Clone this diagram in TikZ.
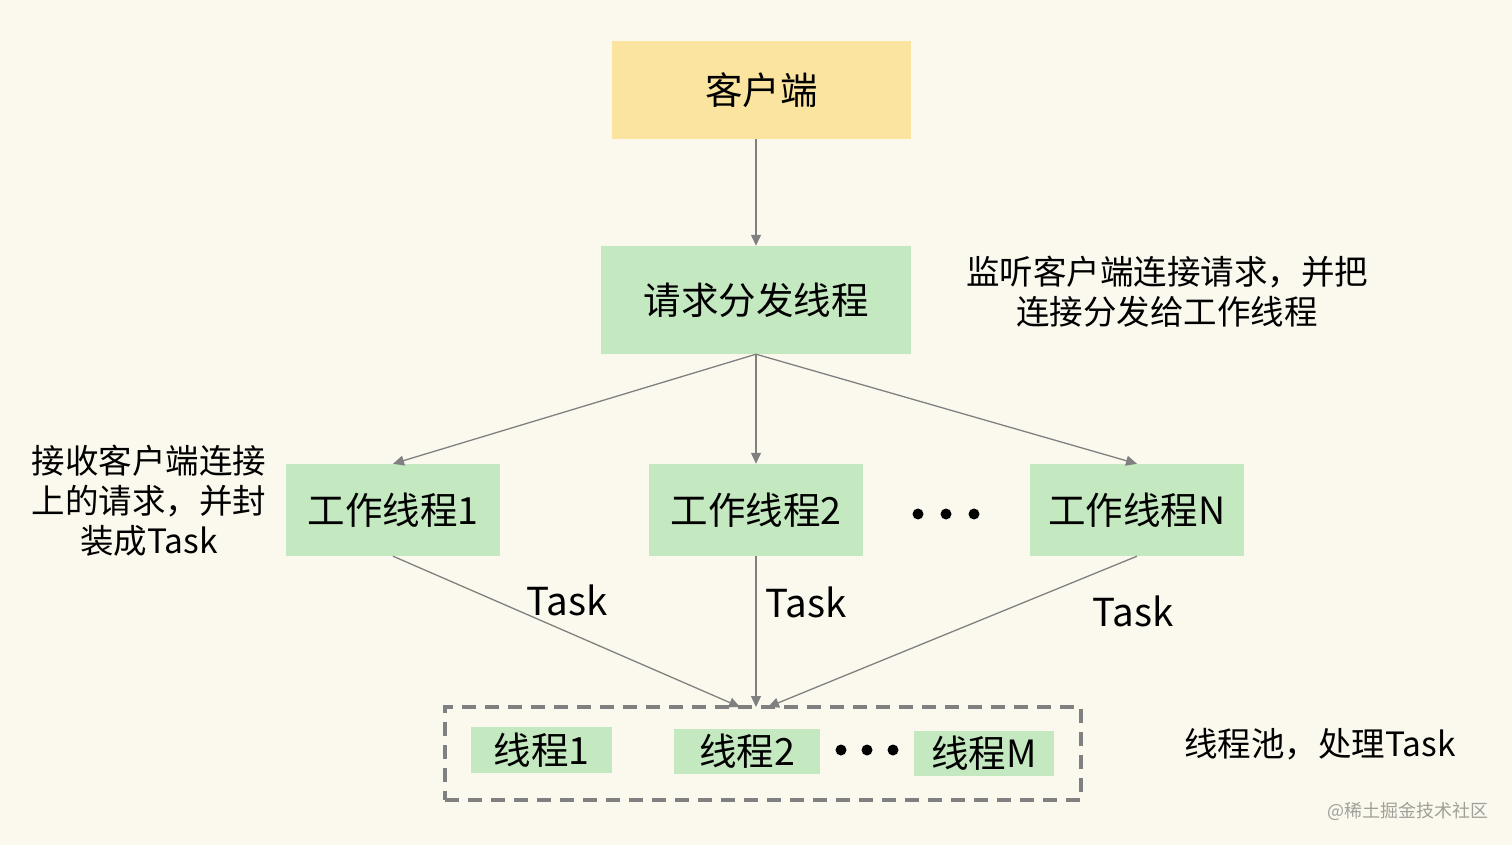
\documentclass[tikz,border=0pt]{standalone}
\usepackage{fontspec}
\setmainfont{Noto Sans CJK SC}
\usetikzlibrary{arrows.meta,calc}
\definecolor{bgc}{HTML}{FBF9EE}
\definecolor{yel}{HTML}{FBE49F}
\definecolor{grn}{HTML}{C4E8C0}
\definecolor{lin}{HTML}{808080}
\definecolor{wm}{HTML}{A0A09A}
\begin{document}
\begin{tikzpicture}[x=1pt,y=-1pt,
  box/.style={draw=none,inner sep=0pt,anchor=center,font=\fontsize{37.5}{42}\selectfont},
  ybox/.style={box,fill=yel},
  gbox/.style={box,fill=grn},
  arr/.style={draw=lin,line width=1.3pt,-{Triangle[length=11pt,width=10pt]}},
  note/.style={align=center,font=\fontsize{33.5}{40}\selectfont,inner sep=0pt},
  tasklbl/.style={font=\fontsize{38.5}{42}\selectfont,inner sep=0pt},
  dotc/.style={fill=black,draw=none}]
\fill[bgc] (0,0) rectangle (1512,845);
\useasboundingbox (0,0) rectangle (1512,845);

\node[ybox,minimum width=299pt,minimum height=98pt] (client) at (761.5,90) {客户端};
\node[gbox,minimum width=310pt,minimum height=108pt] (disp) at (756,300) {请求分发线程};
\node[gbox,minimum width=214pt,minimum height=92pt] (w1) at (393,510) {工作线程1};
\node[gbox,minimum width=214pt,minimum height=92pt] (w2) at (756,510) {工作线程2};
\node[gbox,minimum width=214pt,minimum height=92pt] (wn) at (1137,510) {工作线程N};

\fill[dotc] (918,514) circle (5.5pt) (946,514) circle (5.5pt) (974,514) circle (5.5pt);

\node[draw=lin,line width=3.5pt,dash pattern=on 14pt off 9pt,minimum width=636pt,minimum height=93pt,inner sep=0pt] (pool) at (763,753.5) {};
\node[gbox,minimum width=141pt,minimum height=46pt] (t1) at (541.5,750) {线程1};
\node[gbox,minimum width=146pt,minimum height=45pt] (t2) at (747,751.5) {线程2};
\node[gbox,minimum width=140pt,minimum height=45pt] (tm) at (984,753.5) {线程M};
\fill[dotc] (841,750) circle (5.5pt) (867,750) circle (5.5pt) (893,750) circle (5.5pt);

\coordinate (pa) at (740,707);
\coordinate (pb) at (756,707);
\coordinate (pc) at (768,707);

\draw[arr] (client.south -| disp.north) -- (disp.north);
\draw[arr] (disp.south) -- (w1.north);
\draw[arr] (disp.south) -- (w2.north);
\draw[arr] (disp.south) -- (wn.north);
\draw[arr] (w1.south) -- (pa);
\draw[arr] (w2.south) -- (pb);
\draw[arr] (wn.south) -- (pc);

\node[tasklbl] (ta) at (567,600) {Task};
\node[tasklbl] (tb) at (806,602) {Task};
\node[tasklbl] (tc) at (1133,611) {Task};

\node[note] (nr) at (1167,292) {监听客户端连接请求，并把\\连接分发给工作线程};
\node[note] (nl) at (149,501) {接收客户端连接\\上的请求，并封\\装成Task};
\node[note] (np) at (1320,744) {线程池，处理Task};
\node[inner sep=0pt,text=wm,font=\fontsize{18}{20}\selectfont] (wmk) at (1408,811) {@稀土掘金技术社区};
\end{tikzpicture}
\end{document}
